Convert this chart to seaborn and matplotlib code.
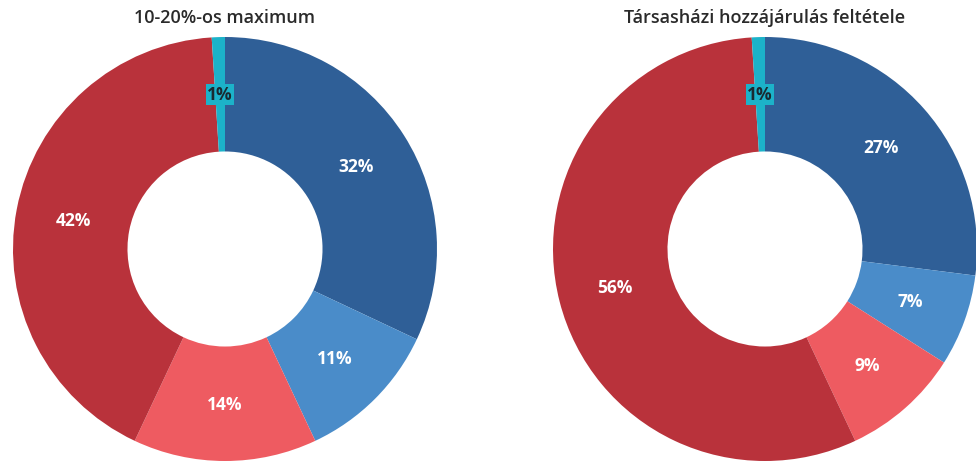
import matplotlib
matplotlib.use("Agg")
import matplotlib.pyplot as plt
import seaborn as sns

# Data
titles = ["10-20%-os maximum", "Társasházi hozzájárulás feltétele"]
left_values = [32, 11, 14, 42, 1]
right_values = [27, 7, 9, 56, 1]
slice_colors = ["#2f5f97", "#4a8cc9", "#ee5b61", "#b9323b", "#1cb2c9"]

sns.set_theme(style="white")
plt.rcParams["font.family"] = ["Open Sans", "DejaVu Sans"]

fig = plt.figure(figsize=(9.76, 4.64), dpi=100)

# axes boxes in pixels: centre x, radius
boxes = [(225, 212), (765, 212)]
cy = 250
W, H = 976, 464

for (cx, r), title, vals in zip(boxes, titles, [left_values, right_values]):
    ax = fig.add_axes([(cx - r) / W, (H - cy - r) / H, 2 * r / W, 2 * r / H])
    wedges, texts = ax.pie(vals, colors=slice_colors, startangle=90, counterclock=False,
                           radius=1, wedgeprops=dict(width=0.54, edgecolor="none"),
                           labels=[f"{v}%" for v in vals], labeldistance=0.73)
    for t, v in zip(texts, vals):
        t.set_ha("center")
        t.set_va("center")
        t.set_fontsize(12.5)
        t.set_fontweight("bold")
        if v == 1:
            t.set_color("#1a2a30")
            t.set_bbox(dict(facecolor=slice_colors[-1], edgecolor="none", pad=1))
        else:
            t.set_color("white")
    ax.set_xlim(-1, 1)
    ax.set_ylim(-1, 1)
    ax.set_aspect("equal")
    ax.axis("off")
    fig.text(cx / W, 1 - 18 / H, title, ha="center", va="center", fontsize=13,
             color="#2a2a2a", fontweight="semibold")

fig.savefig("out.png", dpi=100, facecolor="white")
